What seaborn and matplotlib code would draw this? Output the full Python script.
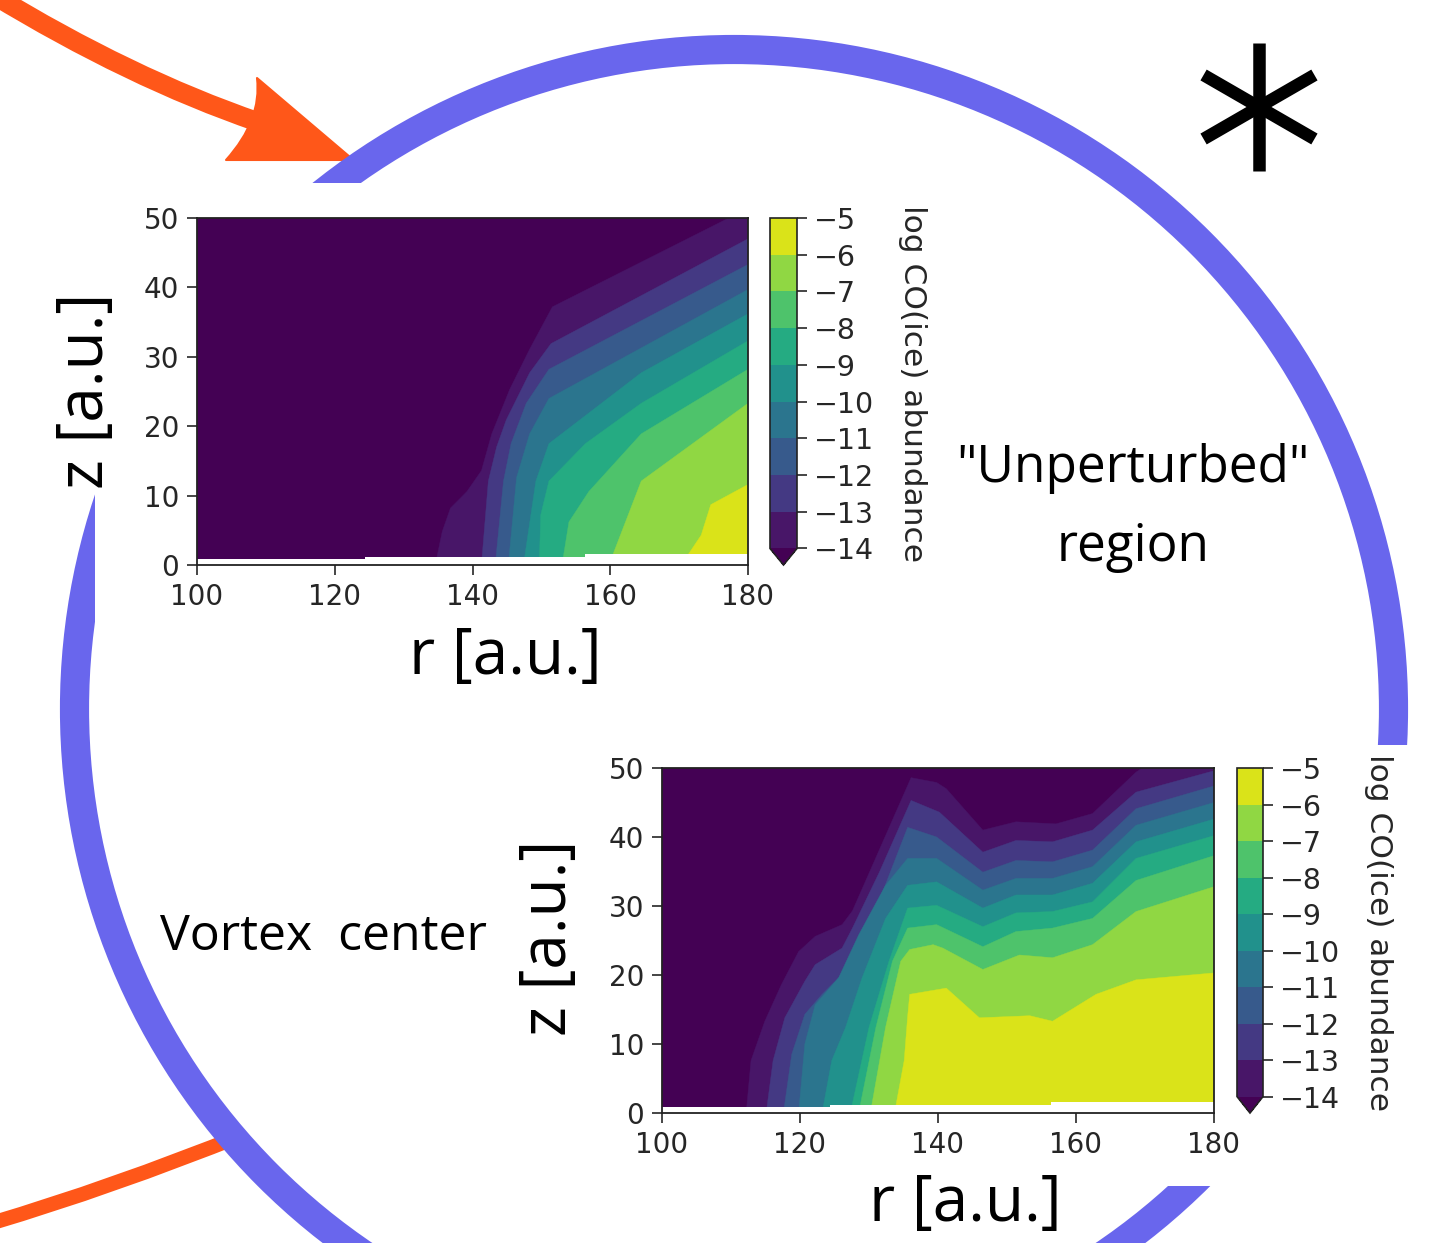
import numpy as np
import matplotlib
matplotlib.use("Agg")
import matplotlib.pyplot as plt
import seaborn as sns
from matplotlib.patches import Circle, Rectangle, PathPatch
from matplotlib.path import Path
from matplotlib.colors import ListedColormap, BoundaryNorm
from matplotlib.cm import ScalarMappable

# --- contour levels (log CO ice abundance) ---
LEVELS = [-14, -13, -12, -11, -10, -9, -8, -7, -6, -5]

# --- iso-abundance boundaries: r [au] and z [au]
#     one curve per level, from the midplane to the right edge ---
TOP_R = [
    [134.6, 135.6, 136.8, 139.2, 141.3, 142.8, 145.4, 148.3, 151.6, 177.2, 180.0],
    [141.3, 142.3, 143.5, 144.9, 148.3, 151.4, 180.0],
    [143.3, 144.5, 145.6, 147.8, 151.1, 180.0],
    [145.2, 146.4, 148.3, 151.1, 180.0],
    [147.4, 149.2, 151.1, 164.5, 180.0],
    [149.7, 149.9, 151.1, 156.4, 164.5, 180.0],
    [153.0, 154.0, 156.9, 164.5, 180.0],
    [159.8, 162.6, 164.5, 180.0],
    [170.3, 173.2, 174.6, 180.0],
]
TOP_Z = [
    [0.0, 4.8, 8.2, 10.6, 13.6, 18.9, 25.3, 31.1, 37.2, 50.0, 50.0],
    [0.0, 12.1, 17.0, 20.9, 27.7, 31.9, 47.0],
    [0.0, 12.1, 17.5, 23.3, 28.2, 43.3],
    [0.0, 12.6, 18.9, 24.0, 39.7],
    [0.0, 12.1, 17.5, 27.7, 36.2],
    [0.0, 7.2, 12.1, 17.5, 23.3, 32.3],
    [0.0, 6.2, 10.6, 18.9, 28.2],
    [0.0, 7.2, 12.1, 23.3],
    [0.0, 4.3, 8.7, 11.6],
]

BOT_R = [
    [112.2, 112.9, 114.9, 117.3, 119.8, 122.2, 126.1, 127.6, 136.1, 139.8, 141.2,
     146.5, 151.3, 157.1, 162.4, 168.7, 169.6, 180.0],
    [115.1, 116.1, 117.8, 120.7, 122.2, 126.1, 127.6, 131.5, 136.1, 140.2, 146.5,
     151.3, 156.6, 162.4, 168.7, 180.0],
    [117.6, 118.8, 120.7, 123.2, 126.1, 128.0, 132.0, 135.6, 139.8, 146.5, 151.3,
     156.6, 162.4, 168.7, 180.0],
    [119.8, 120.7, 122.2, 125.6, 128.5, 132.4, 135.6, 139.8, 146.5, 151.3, 156.6,
     162.4, 168.7, 180.0],
    [123.2, 124.6, 126.6, 129.0, 132.4, 135.6, 139.8, 146.5, 151.3, 156.6, 162.4,
     168.7, 180.0],
    [127.3, 130.0, 132.9, 135.6, 139.8, 146.5, 151.3, 156.6, 162.4, 168.7, 180.0],
    [128.5, 131.0, 133.4, 135.6, 139.8, 146.5, 151.3, 156.6, 162.4, 168.7, 180.0],
    [130.2, 132.4, 134.6, 135.9, 139.3, 140.7, 146.5, 151.8, 156.6, 162.4, 168.7, 180.0],
    [133.7, 135.1, 135.6, 135.9, 141.2, 146.0, 153.3, 156.6, 162.9, 168.7, 180.0],
]
BOT_Z = [
    [0.0, 7.6, 13.3, 18.6, 23.4, 25.6, 27.3, 29.3, 48.6, 47.9, 47.0,
     41.0, 42.2, 41.9, 43.4, 49.4, 50.0, 50.0],
    [0.0, 7.6, 13.8, 19.1, 21.5, 23.9, 26.8, 34.9, 45.3, 43.6, 37.8,
     39.5, 39.3, 41.0, 46.5, 49.6],
    [0.0, 8.5, 14.3, 17.2, 20.1, 23.9, 32.1, 41.4, 40.0, 34.9, 36.6,
     36.4, 38.1, 44.1, 47.4],
    [0.0, 10.0, 15.7, 19.6, 25.8, 33.0, 36.9, 36.9, 32.3, 34.0, 34.0,
     35.7, 41.7, 45.0],
    [0.0, 7.6, 12.4, 19.6, 28.2, 33.0, 33.5, 29.7, 31.6, 31.6, 33.3,
     39.3, 42.6],
    [0.0, 12.4, 22.0, 29.7, 30.1, 27.0, 29.0, 29.2, 30.6, 36.9, 40.2],
    [0.0, 12.4, 22.0, 26.8, 27.3, 24.1, 26.3, 26.8, 28.2, 33.7, 37.3],
    [0.0, 12.4, 22.0, 23.7, 24.4, 23.9, 20.8, 22.9, 22.5, 24.4, 29.2, 32.8],
    [0.0, 7.6, 14.0, 17.2, 18.1, 13.8, 14.1, 13.3, 17.2, 19.3, 20.3],
]

# lowest z of the model grid (white strip along the midplane)
FLOOR_R = [100.0, 124.4, 156.4, 180.0]
FLOOR_Z = [0.8, 1.2, 1.6, 1.6]

R_TICKS = [100, 120, 140, 160, 180]
Z_TICKS = [0, 10, 20, 30, 40, 50]

W, H = 1433, 1243
BLUE = "#6966ED"
ORANGE = "#FF5719"
TXT = "#262626"

sns.set_style("ticks")
plt.rcParams["font.family"] = ["DejaVu Sans"]
plt.rcParams["axes.unicode_minus"] = True

viridis = sns.color_palette("viridis", as_cmap=True)
BAND_COLORS = [viridis((k + 0.5) / 9) for k in range(9)]
UNDER = viridis(0.0)

fig = plt.figure(figsize=(W / 100, H / 100), dpi=100)

# ------------------------------------------------------------------
# background sketch: circle, arrows, star, labels (pixel coordinates)
# ------------------------------------------------------------------
bg = fig.add_axes([0, 0, 1, 1], zorder=0)
bg.set_xlim(0, W)
bg.set_ylim(H, 0)
bg.axis("off")

# incoming flow arrow (top left)
shaft = Path([(-8, -6), (130, 78), (258, 122)], [Path.MOVETO, Path.CURVE3, Path.CURVE3])
bg.add_patch(PathPatch(shaft, fc="none", ec=ORANGE, lw=14, capstyle="butt", zorder=1))
head = Path([(350, 157), (257, 78), (262, 120), (226, 160), (350, 160), (350, 157)],
            [Path.MOVETO, Path.LINETO, Path.CURVE3, Path.CURVE3, Path.LINETO, Path.CLOSEPOLY])
bg.add_patch(PathPatch(head, fc=ORANGE, ec=ORANGE, lw=1.5, joinstyle="round", zorder=1))

# outgoing flow (bottom left)
tail = Path([(-8, 1223), (110, 1188), (245, 1134)], [Path.MOVETO, Path.CURVE3, Path.CURVE3])
bg.add_patch(PathPatch(tail, fc="none", ec=ORANGE, lw=10.5, capstyle="butt", zorder=1))

# vortex ring
bg.add_patch(Circle((734, 709), 659.5, fill=False, ec=BLUE, lw=21, zorder=2))

# white backgrounds of the two pasted panels
bg.add_patch(Rectangle((95, 183), 850, 510, fc="white", ec="none", zorder=3))
bg.add_patch(Rectangle((510, 745), 930, 441, fc="white", ec="none", zorder=3))

# star
for ang in (90, 30, 150):
    a = np.deg2rad(ang)
    bg.plot([1259 - 64 * np.cos(a), 1259 + 64 * np.cos(a)],
            [107 - 64 * np.sin(a), 107 + 64 * np.sin(a)],
            color="black", lw=9, solid_capstyle="butt", zorder=4)

big = dict(family=["Open Sans", "DejaVu Sans"], color="black", zorder=5)
bg.text(1133, 508, '"Unperturbed"\nregion', ha="center", va="center",
        fontsize=37, linespacing=1.72, **big)
bg.text(324, 937, "Vortex  center", ha="center", va="center", fontsize=36, **big)
bg.text(86, 391, "z [a.u.]", rotation=90, ha="center", va="center", fontsize=46, **big)
bg.text(505, 657, "r [a.u.]", ha="center", va="center", fontsize=46, **big)
bg.text(549, 938, "z [a.u.]", rotation=90, ha="center", va="center", fontsize=46, **big)
bg.text(965, 1204, "r [a.u.]", ha="center", va="center", fontsize=46, **big)

# ------------------------------------------------------------------
# the two CO-ice abundance maps
# ------------------------------------------------------------------
band_cmap = ListedColormap(BAND_COLORS)
band_cmap.set_under(UNDER)
norm = BoundaryNorm(LEVELS, 9)


def draw_panel(rect, cbar_rect, bounds_r, bounds_z):
    ax = fig.add_axes(rect, zorder=2)
    cax = fig.add_axes(cbar_rect, zorder=2)

    ax.fill([100, 180, 180, 100], [0, 0, 50, 50], color=UNDER, lw=0)
    for k, (rr, zz) in enumerate(zip(bounds_r, bounds_z)):
        ax.fill(np.r_[rr, 180.0], np.r_[zz, 0.0], color=BAND_COLORS[k], lw=0.3,
                ec=BAND_COLORS[k])
    ax.fill_between(FLOOR_R, 0, FLOOR_Z, step="post", color="white", lw=0, zorder=3)

    ax.set_xlim(100, 180)
    ax.set_ylim(0, 50)
    ax.set_xticks(R_TICKS)
    ax.set_yticks(Z_TICKS)
    ax.tick_params(labelsize=20, length=7, width=1.2, pad=6, colors=TXT)
    for s in ax.spines.values():
        s.set_linewidth(1.3)
        s.set_color("#222222")
        s.set_zorder(4)

    cb = fig.colorbar(ScalarMappable(norm=norm, cmap=band_cmap), cax=cax,
                      extend="min", ticks=LEVELS)
    cb.outline.set_linewidth(1.2)
    cb.outline.set_edgecolor("#222222")
    cax.tick_params(labelsize=20.5, length=7, width=1.2, pad=5, colors=TXT)
    cb.set_label("log CO(ice) abundance", rotation=270, fontsize=22.5, labelpad=38,
                 color=TXT)
    return ax


draw_panel([197 / W, 1 - 565 / H, 551 / W, 347 / H],
           [770 / W, 1 - 565 / H, 27 / W, 347 / H], TOP_R, TOP_Z)
draw_panel([662 / W, 1 - 1113 / H, 552 / W, 345 / H],
           [1237 / W, 1 - 1113 / H, 26 / W, 345 / H], BOT_R, BOT_Z)

fig.savefig("out.png", dpi=100)
